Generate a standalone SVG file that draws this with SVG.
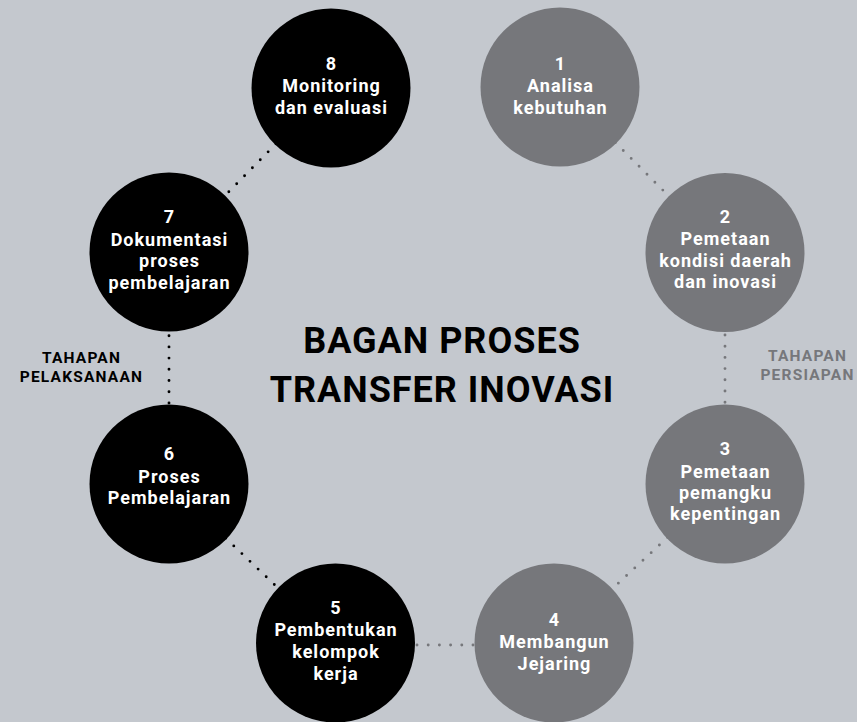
<svg xmlns="http://www.w3.org/2000/svg" width="857" height="722" viewBox="0 0 857 722">
<style>
.bg{fill:#c4c8ce}
.blk{fill:#000}
.gry{fill:#76777b}
.t{font-family:Roboto,"DejaVu Sans",sans-serif;font-weight:700;font-size:18px;letter-spacing:1px;fill:#fff;text-anchor:middle}
.dk{stroke:#000;stroke-width:2.9;stroke-linecap:round;stroke-dasharray:0 11.2;fill:none}
.dg{stroke:#76777b;stroke-width:2.9;stroke-linecap:round;stroke-dasharray:0 11.2;fill:none}
.title{font-family:Roboto,"DejaVu Sans",sans-serif;font-weight:700;font-size:36px;letter-spacing:1px;fill:#000;text-anchor:middle}
.lab{font-family:Roboto,"DejaVu Sans",sans-serif;font-weight:700;font-size:15.5px;letter-spacing:1.2px;text-anchor:middle}
</style>
<rect class="bg" x="0" y="0" width="857" height="722"/>
<g id="connectors">
<line class="dk" x1="331" y1="88" x2="169" y2="252.5"/>
<line class="dk" x1="169" y1="335.7" x2="169" y2="410"/>
<line class="dk" x1="169" y1="484" x2="335.5" y2="643"/>
<line class="dg" x1="560" y1="87" x2="725" y2="252.5"/>
<line class="dg" x1="725" y1="335" x2="725" y2="410"/>
<line class="dg" x1="725" y1="484" x2="554" y2="643"/>
<line class="dg" x1="417" y1="645" x2="480" y2="645"/>
</g>
<g id="node8"><circle class="blk" cx="331" cy="88" r="79.5"/>
<text class="t" x="331.5" y="70">8</text><text class="t" x="331.5" y="92">Monitoring</text><text class="t" x="331.5" y="114">dan evaluasi</text></g>
<g id="node1"><circle class="gry" cx="560" cy="87" r="79.5"/>
<text class="t" x="560.5" y="70">1</text><text class="t" x="560.5" y="92">Analisa</text><text class="t" x="560.5" y="114">kebutuhan</text></g>
<g id="node2"><circle class="gry" cx="725" cy="252.5" r="79.5"/>
<text class="t" x="725.5" y="223">2</text><text class="t" x="725.5" y="245">Pemetaan</text><text class="t" x="725.5" y="267">kondisi daerah</text><text class="t" x="725.5" y="288">dan inovasi</text></g>
<g id="node3"><circle class="gry" cx="725" cy="484" r="79.5"/>
<text class="t" x="725.5" y="455">3</text><text class="t" x="725.5" y="477.5">Pemetaan</text><text class="t" x="725.5" y="499">pemangku</text><text class="t" x="725.5" y="520">kepentingan</text></g>
<g id="node4"><circle class="gry" cx="554" cy="643" r="79.5"/>
<text class="t" x="554.5" y="626">4</text><text class="t" x="554.5" y="648">Membangun</text><text class="t" x="554.5" y="670">Jejaring</text></g>
<g id="node5"><circle class="blk" cx="335.5" cy="643" r="79.5"/>
<text class="t" x="336" y="614">5</text><text class="t" x="336" y="636">Pembentukan</text><text class="t" x="336" y="658">kelompok</text><text class="t" x="336" y="680">kerja</text></g>
<g id="node6"><circle class="blk" cx="169" cy="484" r="79.5"/>
<text class="t" x="169.5" y="460">6</text><text class="t" x="169.5" y="482.5">Proses</text><text class="t" x="169.5" y="504">Pembelajaran</text></g>
<g id="node7"><circle class="blk" cx="169" cy="252" r="79.5"/>
<text class="t" x="169.5" y="223">7</text><text class="t" x="169.5" y="246">Dokumentasi</text><text class="t" x="169.5" y="267">proses</text><text class="t" x="169.5" y="289">pembelajaran</text></g>
<g id="title">
<text class="title" x="442" y="353">BAGAN PROSES</text>
<text class="title" x="442" y="402">TRANSFER INOVASI</text>
</g>
<g id="labels">
<text class="lab" x="81.5" y="363" fill="#000">TAHAPAN</text>
<text class="lab" x="81.5" y="382" fill="#000">PELAKSANAAN</text>
<text class="lab" x="807.5" y="361" fill="#76777b">TAHAPAN</text>
<text class="lab" x="807.5" y="380" fill="#76777b">PERSIAPAN</text>
</g>
</svg>
